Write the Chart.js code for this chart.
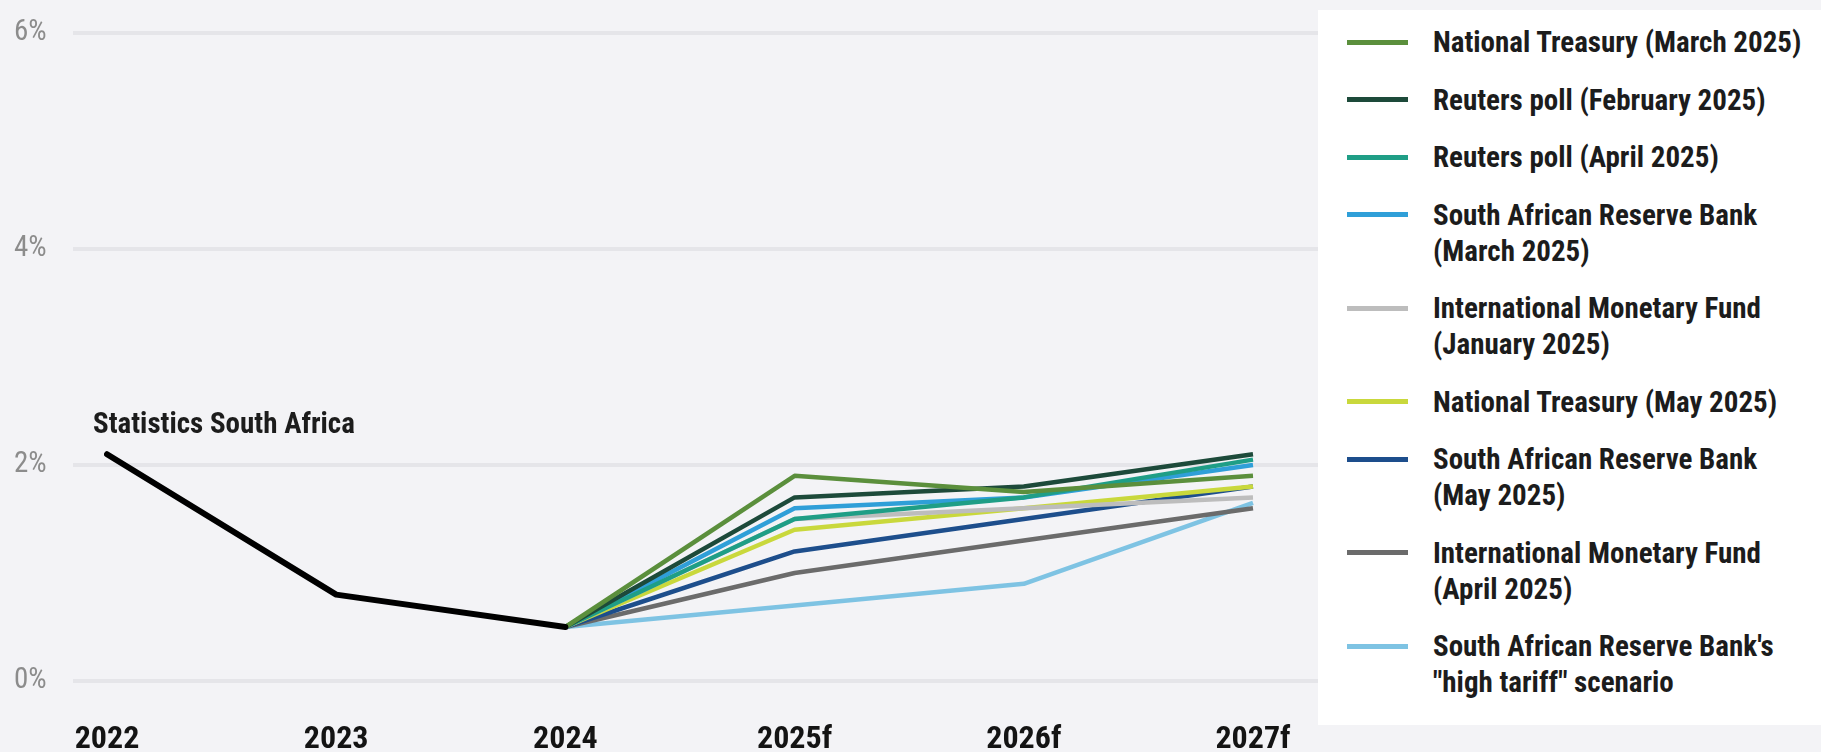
<!DOCTYPE html>
<html><head><meta charset="utf-8">
<script src="https://cdn.jsdelivr.net/npm/chart.js@4.4.1/dist/chart.umd.min.js"></script>
<style>
html,body{margin:0;padding:0;background:#f3f3f6;}
#wrap{position:relative;width:1821px;height:752px;overflow:hidden;background:#f3f3f6;}
#c{position:absolute;left:0;top:0;}
#legend{position:absolute;left:1318px;top:10px;width:503px;height:715px;background:#fff;box-sizing:border-box;padding-top:14px;}
.item{display:flex;align-items:flex-start;margin-bottom:21.5px;}
.sw{width:61px;height:5px;margin-left:29px;margin-top:15.5px;flex:none;}
.tx{margin-left:25px;font-family:"Roboto Condensed","Open Sans",sans-serif;font-weight:bold;font-size:29px;line-height:36px;color:#1c1c1c;white-space:pre;}
</style></head>
<body>
<div id="wrap"><canvas id="c" width="1821" height="752"></canvas><div id="legend"></div></div>
<script>
// ---- data ----
const years = ["2022", "2023", "2024", "2025f", "2026f", "2027f"];
const yTicks = [0, 2, 4, 6];
const statsSA      = [2.1, 0.8, 0.5, null, null, null];
const ntMarch      = [null, null, 0.5, 1.9, 1.75, 1.9];
const reutersFeb   = [null, null, 0.5, 1.7, 1.8, 2.1];
const reutersApr   = [null, null, 0.5, 1.5, 1.7, 2.05];
const sarbMarch    = [null, null, 0.5, 1.6, 1.7, 2.0];
const imfJan       = [null, null, 0.5, 1.5, 1.6, 1.7];
const ntMay        = [null, null, 0.5, 1.4, 1.6, 1.8];
const sarbMay      = [null, null, 0.5, 1.2, 1.5, 1.8];
const imfApril     = [null, null, 0.5, 1.0, 1.3, 1.6];
const highTariff   = [null, null, 0.5, 0.7, 0.9, 1.65];
const historyLabel = "Statistics South Africa";
const seriesNames = [
  "National Treasury (March 2025)",
  "Reuters poll (February 2025)",
  "Reuters poll (April 2025)",
  "South African Reserve Bank\n(March 2025)",
  "International Monetary Fund\n(January 2025)",
  "National Treasury (May 2025)",
  "South African Reserve Bank\n(May 2025)",
  "International Monetary Fund\n(April 2025)",
  "South African Reserve Bank's\n\"high tariff\" scenario"
];
const seriesData = [ntMarch, reutersFeb, reutersApr, sarbMarch, imfJan, ntMay, sarbMay, imfApril, highTariff];
const seriesColors = ["#5b8f3c", "#1d4a3a", "#1f9e86", "#2f9fd8", "#bdbdbd", "#c9d83c", "#1d4e8c", "#6b6b6b", "#7ec3e3"];

const FONT = '"Roboto Condensed","Open Sans",sans-serif';

const datasets = [{
  label: historyLabel, data: statsSA, borderColor: "#000", borderWidth: 6,
  pointRadius: 0, tension: 0, spanGaps: false, borderJoinStyle: 'round', borderCapStyle: 'round', order: 0
}];
seriesNames.forEach((n, i) => datasets.push({
  label: n, data: seriesData[i], borderColor: seriesColors[i], backgroundColor: seriesColors[i],
  borderWidth: 4.5, pointRadius: 0, tension: 0, borderJoinStyle: 'round', order: i + 1
}));

const gridPlugin = {
  id: 'extGrid',
  beforeDatasetsDraw(chart) {
    const ctx = chart.ctx, y = chart.scales.y;
    ctx.save();
    ctx.strokeStyle = '#e5e5e9'; ctx.lineWidth = 4;
    yTicks.forEach(v => {
      const py = y.getPixelForValue(v);
      ctx.beginPath(); ctx.moveTo(73, py); ctx.lineTo(1321, py); ctx.stroke();
    });
    ctx.restore();
  }
};
const annotPlugin = {
  id: 'annot',
  afterDatasetsDraw(chart) {
    const p = chart.getDatasetMeta(0).data[0];
    const ctx = chart.ctx;
    ctx.save();
    ctx.font = 'bold 29px ' + FONT;
    ctx.fillStyle = '#1c1c1c'; ctx.textBaseline = 'middle'; ctx.textAlign = 'left';
    ctx.fillText(historyLabel, p.x - 14, p.y - 28);
    ctx.restore();
  }
};
const htmlLegend = {
  id: 'htmlLegend',
  afterUpdate(chart) {
    const box = document.getElementById('legend');
    box.innerHTML = '';
    chart.data.datasets.forEach((ds, i) => {
      if (i === 0) return;
      const it = document.createElement('div'); it.className = 'item';
      const sw = document.createElement('div'); sw.className = 'sw'; sw.style.background = ds.borderColor;
      const tx = document.createElement('div'); tx.className = 'tx'; tx.textContent = ds.label;
      it.appendChild(sw); it.appendChild(tx); box.appendChild(it);
    });
  }
};

new Chart(document.getElementById('c'), {
  type: 'line',
  data: { labels: years, datasets },
  options: {
    responsive: false, animation: false,
    layout: { padding: { left: 14, right: 568, top: 33, bottom: 0 } },
    plugins: { legend: { display: false }, tooltip: { enabled: false } },
    scales: {
      x: {
        type: 'category', offset: false,
        grid: { display: false, drawTicks: false }, border: { display: false },
        ticks: { font: { family: FONT, size: 32, weight: 'bold' }, color: '#141414', padding: 40, maxRotation: 0, autoSkip: false },
        afterFit(s) { s.height = 71; }
      },
      y: {
        min: 0, max: 6,
        grid: { display: false, drawTicks: false }, border: { display: false },
        afterBuildTicks(s) { s.ticks = yTicks.map(v => ({ value: v })); },
        ticks: { callback: v => v + '%', crossAlign: 'far', padding: 0, color: '#8c8c8c', font: { family: FONT, size: 29 } },
        afterFit(s) { s.width = 93; }
      }
    }
  },
  plugins: [gridPlugin, annotPlugin, htmlLegend]
});
</script>
</body></html>
